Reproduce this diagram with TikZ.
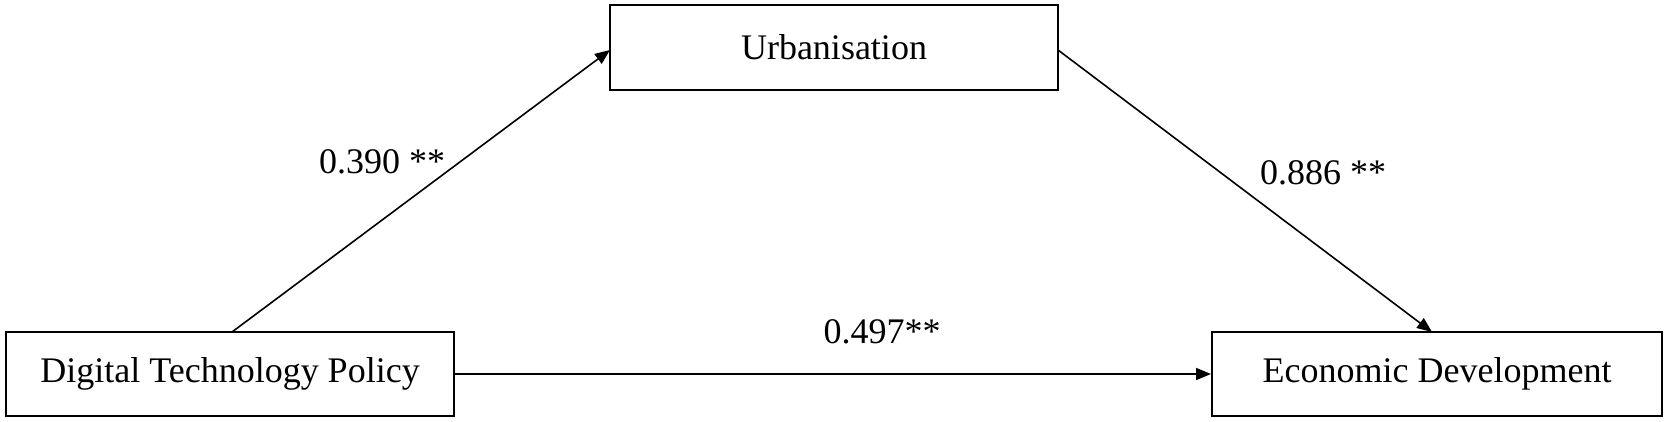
\documentclass[tikz,border=0pt]{standalone}
\usepackage{fontspec}
\setmainfont{Liberation Serif}
\usetikzlibrary{arrows.meta}
\begin{document}
\begin{tikzpicture}[x=1pt,y=-1pt,
  varbox/.style={draw, line width=2pt, inner sep=0pt, font=\fontsize{36}{42}\selectfont},
  conn/.style={line width=1.6pt, -{Triangle[length=15pt,width=12pt]}},
  coef/.style={font=\fontsize{36}{42}\selectfont, inner sep=0pt}]
\useasboundingbox (0,0) rectangle (1667,422);
\fill[white] (0,0) rectangle (1667,422);
\node[varbox, minimum width=448pt, minimum height=84pt] (dtp) at (230,374) {Digital Technology Policy};
\node[varbox, minimum width=448pt, minimum height=85pt] (urb) at (834,47.5) {Urbanisation};
\node[varbox, minimum width=450pt, minimum height=84pt] (ed) at (1437,374) {Economic Development};
\coordinate (a1) at (232,332);
\coordinate (u1) at (610,50);
\coordinate (u2) at (1058,50);
\coordinate (b1) at (1432,332);
\draw[conn] (a1) -- (u1);
\draw[conn] (u2) -- (b1);
\draw[conn] (dtp.east) -- (ed.west);
\node[coef] (c1) at (382,162) {0.390 **};
\node[coef] (c2) at (1323,173) {0.886 **};
\node[coef] (c3) at (882,332) {0.497**};
\end{tikzpicture}
\end{document}
